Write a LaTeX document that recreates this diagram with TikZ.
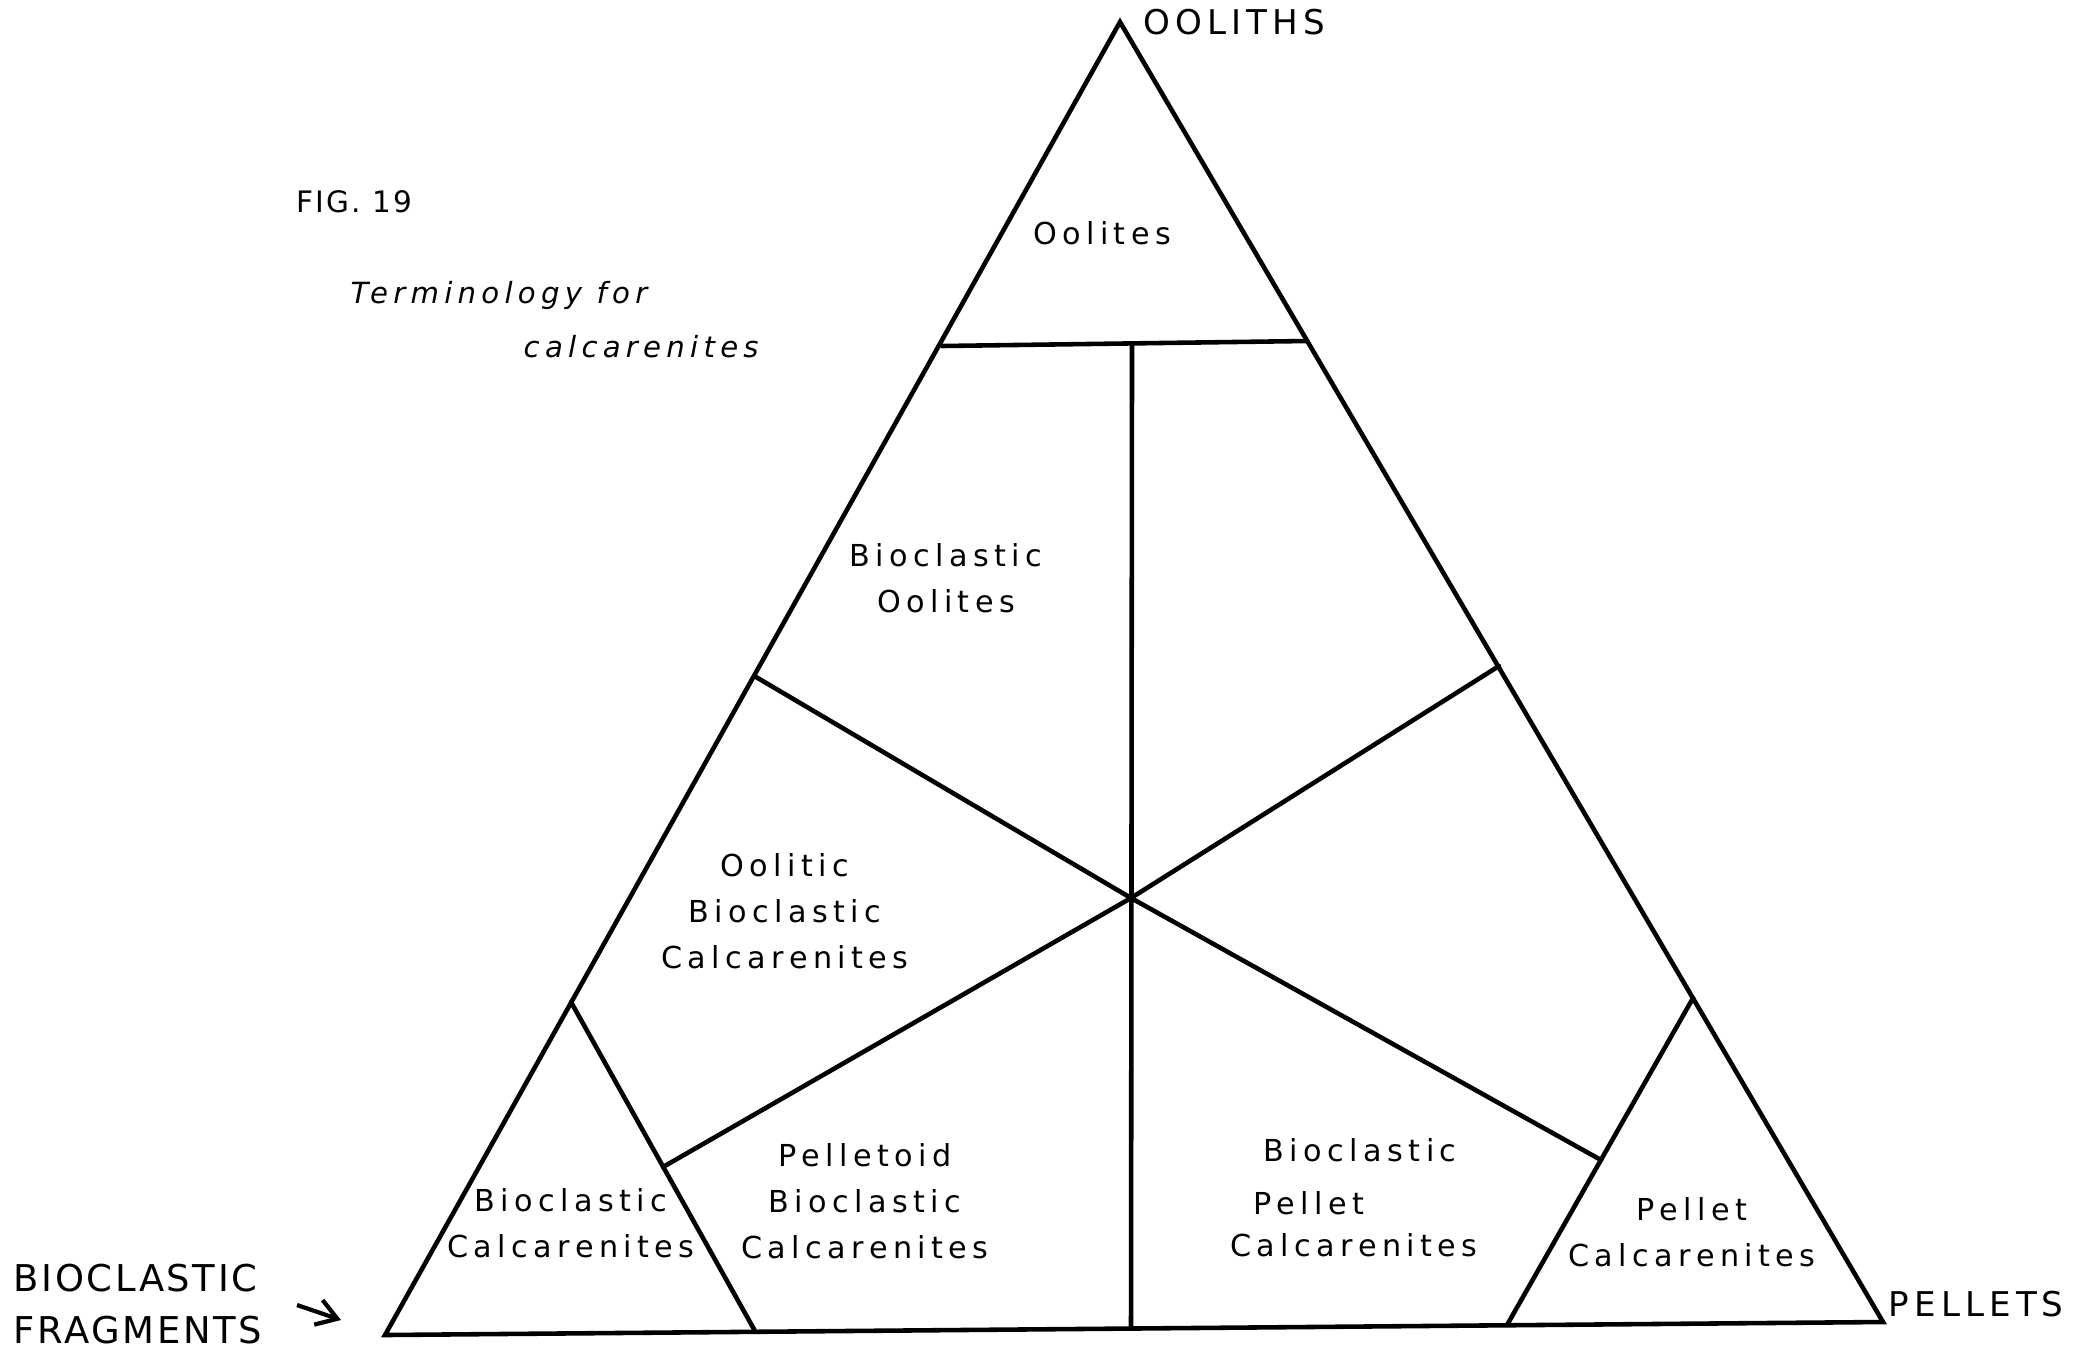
\documentclass[tikz,border=0pt]{standalone}
\usepackage{fontspec}
\setmainfont{DejaVu Sans}
\newfontfamily\lettr[LetterSpace=18]{DejaVu Sans}
\newfontfamily\lettrcap[LetterSpace=15]{DejaVu Sans}
\newfontfamily\lettrwide[LetterSpace=7]{DejaVu Sans}
\usetikzlibrary{arrows.meta}
\usetikzlibrary{positioning}
\tikzstyle{edge}=[line width=1.3pt, line cap=round]
\tikzstyle{field}=[inner sep=0pt, align=center, font=\lettr\fontsize{8.6}{13}\selectfont]
\tikzstyle{endmember}=[inner sep=0pt, anchor=west, font=\lettrcap\fontsize{9.7}{13}\selectfont]
\tikzstyle{myarrow}=[-{Straight Barb[length=2mm, width=2.6mm]}, line width=1.2pt]

\begin{document}
\begin{tikzpicture}[x=0.01cm, y=-0.01cm]
    \useasboundingbox (0,0) rectangle (2086,1348) ;
    %\draw[help lines, step=100] (0,0) grid (2086,1348) ;
    % corners of the triangle
    \coordinate (O) at (1120,22) ;
    \coordinate (B) at (385,1335) ;
    \coordinate (P) at (1883,1322) ;
    % dividing points
    \coordinate (oolL) at (942,346) ;
    \coordinate (oolR) at (1307,341) ;
    \coordinate (vtop) at (1132,344) ;
    \coordinate (vbot) at (1131,1328) ;
    \coordinate (cen) at (1131,898) ;
    \coordinate (midL) at (756,677) ;
    \coordinate (midR) at (1499,666) ;
    \coordinate (sbTop) at (571,1002) ;
    \coordinate (sbBot) at (755,1331) ;
    \coordinate (sbMid) at (663,1167) ;
    \coordinate (spTop) at (1693,998) ;
    \coordinate (spBot) at (1507,1325) ;
    \coordinate (spMid) at (1601,1160) ;

    \draw[edge] (O) -- (B) -- (P) -- cycle ;
    \draw[edge] (oolL) -- (oolR) ;
    \draw[edge] (vtop) -- (vbot) ;
    \draw[edge] (midL) -- (cen) -- (spMid) ;
    \draw[edge] (midR) -- (cen) -- (sbMid) ;
    \draw[edge] (sbTop) -- (sbBot) ;
    \draw[edge] (spTop) -- (spBot) ;

    % end members
    \node[endmember] (oolith) at (1143,22) {OOLITHS} ;
    \node[endmember] (pellet) at (1888,1304) {PELLETS} ;
    \node[endmember, align=left, font=\lettrwide\fontsize{10.5}{15}\selectfont]
        (frag) at (13,1304) {BIOCLASTIC\\FRAGMENTS} ;
    \coordinate (arrS) at (297,1305) ;
    \coordinate (arrE) at (341,1320) ;
    \draw[myarrow] (arrS) -- (arrE) ;

    % title
    \node[inner sep=0pt, anchor=west, font=\lettrwide\fontsize{8.4}{10}\selectfont]
        (fig) at (296,202) {FIG. 19} ;
    \node[inner sep=0pt, anchor=base west, font=\lettr\itshape\fontsize{8.3}{10}\selectfont]
        (term) at (350,303) {Terminology for} ;
    \node[inner sep=0pt, anchor=base west, font=\lettr\itshape\fontsize{8.3}{10}\selectfont]
        (calc) at (523,357) {calcarenites} ;

    % fields
    \node[field] (oolites) at (1102,233) {Oolites} ;
    \node[field] (biool) at (946,578) {Bioclastic\\Oolites} ;
    \node[field] (oobio) at (785,911) {Oolitic\\Bioclastic\\Calcarenites} ;
    \node[field] (biocalc) at (571,1223) {Bioclastic\\Calcarenites} ;
    \node[field] (pelbio) at (865,1201) {Pelletoid\\Bioclastic\\Calcarenites} ;
    \node[field] (bpA) at (1360,1150) {Bioclastic} ;
    \node[field] (bpB) at (1309,1203) {Pellet} ;
    \node[field] (bpC) at (1354,1245) {Calcarenites} ;
    \node[field] (pelcalc) at (1692,1232) {Pellet\\Calcarenites} ;
\end{tikzpicture}
\end{document}
